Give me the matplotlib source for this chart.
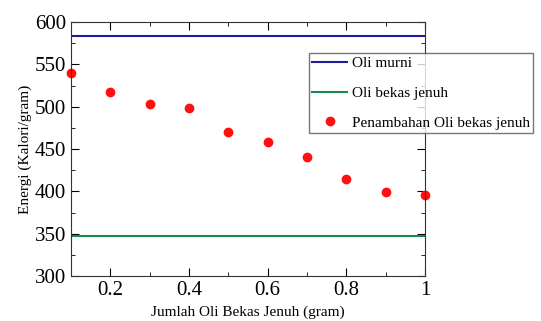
import matplotlib
matplotlib.use("Agg")
import matplotlib.pyplot as plt
from matplotlib.ticker import MultipleLocator

plt.rcParams['font.family'] = ['Liberation Serif', 'DejaVu Serif']

# data
jumlah = [0.1, 0.2, 0.3, 0.4, 0.5, 0.6, 0.7, 0.8, 0.9, 1.0]
energi = [540, 517, 503, 498, 470, 458, 440, 415, 399, 396]
oli_murni = 583
oli_bekas = 347

fig = plt.figure(figsize=(5.41, 3.21), dpi=100)
ax = fig.add_axes([71 / 541, 45 / 321, 354 / 541, 254 / 321])

ax.axhline(oli_murni, color='#1c1c9c', lw=1.5, label='Oli murni')
ax.axhline(oli_bekas, color='#1a8a50', lw=1.5, label='Oli bekas jenuh')
ax.plot(jumlah, energi, 'o', color='#ff1010', ms=6, clip_on=False,
        label='Penambahan Oli bekas jenuh')

ax.set_xlim(0.1, 1.0)
ax.set_ylim(300, 600)
ax.xaxis.set_major_locator(MultipleLocator(0.2))
ax.xaxis.set_minor_locator(MultipleLocator(0.1))
ax.yaxis.set_major_locator(MultipleLocator(50))
ax.yaxis.set_minor_locator(MultipleLocator(25))
ax.set_xticks([0.2, 0.4, 0.6, 0.8, 1.0])
ax.set_xticklabels(['0.2', '0.4', '0.6', '0.8', '1'])
ax.tick_params(which='both', direction='in', top=True, right=True, labelsize=15)
ax.tick_params(which='major', length=6)
ax.tick_params(which='minor', length=3)
for s in ax.spines.values():
    s.set_color('#333333')

ax.set_xlabel('Jumlah Oli Bekas Jenuh (gram)', fontsize=11, labelpad=4)
ax.set_ylabel('Energi (Kalori/gram)', fontsize=11, labelpad=2)

leg = ax.legend(loc='upper left', bbox_to_anchor=(0.672, 0.876), fontsize=11,
                frameon=True, fancybox=False, edgecolor='#555555',
                handlelength=2.3, handletextpad=0.3, labelspacing=1.05,
                borderpad=0.2, borderaxespad=0)
leg.get_frame().set_linewidth(1.0)

fig.savefig('out.png', dpi=100)
